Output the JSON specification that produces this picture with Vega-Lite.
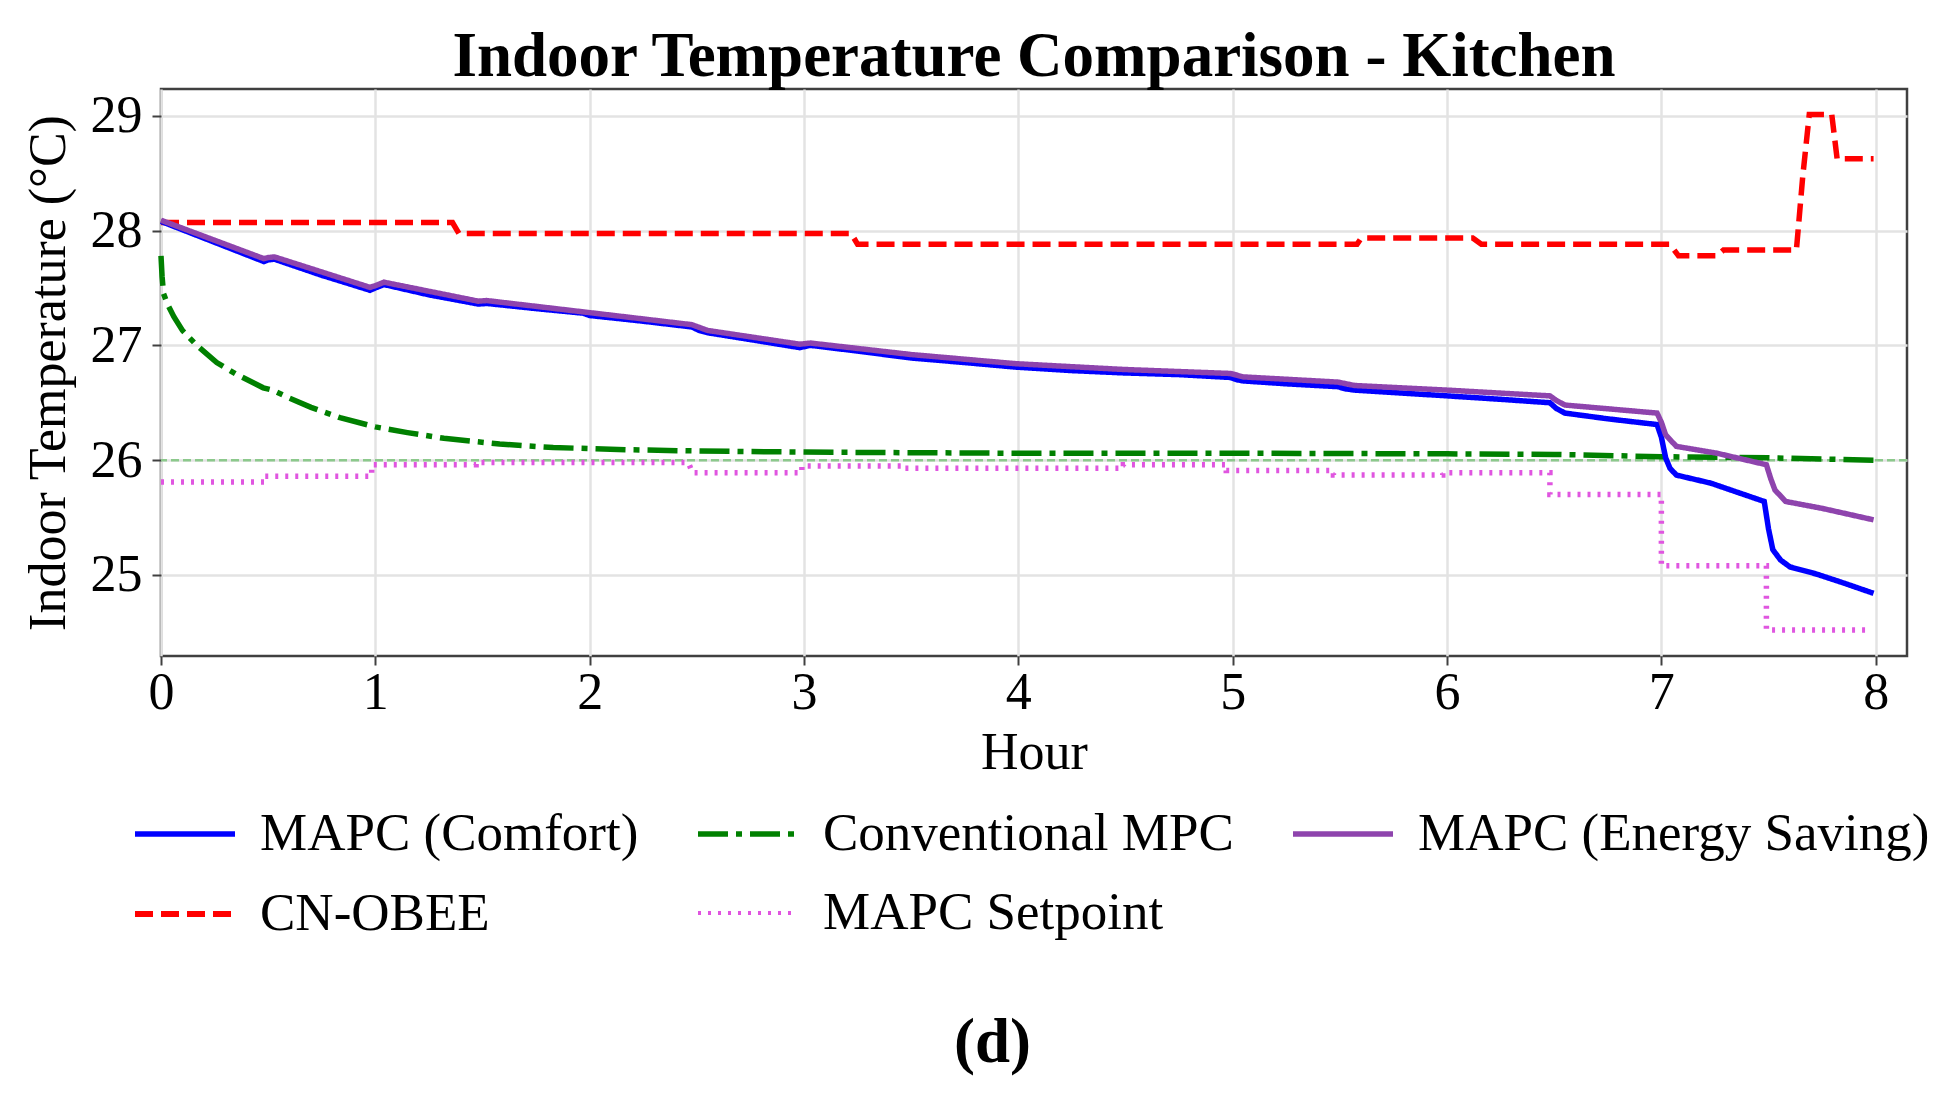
{
"$schema":"https://vega.github.io/schema/vega-lite/v6.json",
"width":1746,"height":567,
"autosize":{"type":"none"},
"padding":{"left":161,"top":89,"right":42,"bottom":438},
"background":"white",
"title":{"text":"Indoor Temperature Comparison - Kitchen","font":"Liberation Serif","fontSize":63,"fontWeight":"bold","color":"black","anchor":"middle","offset":-63,"baseline":"bottom"},
"config":{
"view":{"stroke":"#404040","strokeWidth":2.5},
"axis":{"labelFont":"Liberation Serif","titleFont":"Liberation Serif","labelFontSize":52,"titleFontSize":52,"titleFontWeight":"normal","labelColor":"black","titleColor":"black","tickColor":"#404040","tickWidth":2,"tickSize":9,"domain":false,"gridColor":"#e3e3e3","gridWidth":2.5,"labelFlush":false,"labelOverlap":false},
"axisX":{"labelPadding":2,"titlePadding":9},
"axisY":{"labelPadding":10,"titlePadding":15},
"legend":{"orient":"none","legendX":-29,"legendY":692,"columns":3,"columnPadding":48,"rowPadding":-4,"symbolType":"stroke","symbolSize":10000,"labelFont":"Liberation Serif","labelFontSize":53,"labelColor":"black","labelOffset":22,"labelLimit":0,"titleOrient":"bottom","titleAnchor":"middle","titleAlign":"right","titleFont":"Liberation Serif","titleFontSize":63,"titleFontWeight":"bold","titleColor":"black","titlePadding":71,"titleLimit":0}
},
"data":{"values":[
{"s":"MAPC Setpoint","k":0,"x":0,"y":25.81},
{"s":"MAPC Setpoint","k":1,"x":0.485,"y":25.81},
{"s":"MAPC Setpoint","k":2,"x":0.485,"y":25.86},
{"s":"MAPC Setpoint","k":3,"x":0.983,"y":25.86},
{"s":"MAPC Setpoint","k":4,"x":0.983,"y":25.96},
{"s":"MAPC Setpoint","k":5,"x":1.47,"y":25.96},
{"s":"MAPC Setpoint","k":6,"x":1.47,"y":25.98},
{"s":"MAPC Setpoint","k":7,"x":2.46,"y":25.98},
{"s":"MAPC Setpoint","k":8,"x":2.48,"y":25.89},
{"s":"MAPC Setpoint","k":9,"x":2.99,"y":25.89},
{"s":"MAPC Setpoint","k":10,"x":2.99,"y":25.95},
{"s":"MAPC Setpoint","k":11,"x":3.457,"y":25.95},
{"s":"MAPC Setpoint","k":12,"x":3.457,"y":25.93},
{"s":"MAPC Setpoint","k":13,"x":4.49,"y":25.93},
{"s":"MAPC Setpoint","k":14,"x":4.49,"y":25.96},
{"s":"MAPC Setpoint","k":15,"x":4.97,"y":25.96},
{"s":"MAPC Setpoint","k":16,"x":4.97,"y":25.91},
{"s":"MAPC Setpoint","k":17,"x":5.47,"y":25.91},
{"s":"MAPC Setpoint","k":18,"x":5.47,"y":25.87},
{"s":"MAPC Setpoint","k":19,"x":5.98,"y":25.87},
{"s":"MAPC Setpoint","k":20,"x":5.98,"y":25.89},
{"s":"MAPC Setpoint","k":21,"x":6.48,"y":25.89},
{"s":"MAPC Setpoint","k":22,"x":6.48,"y":25.7},
{"s":"MAPC Setpoint","k":23,"x":7.0,"y":25.7},
{"s":"MAPC Setpoint","k":24,"x":7.0,"y":25.08},
{"s":"MAPC Setpoint","k":25,"x":7.49,"y":25.08},
{"s":"MAPC Setpoint","k":26,"x":7.49,"y":24.52},
{"s":"MAPC Setpoint","k":27,"x":7.96,"y":24.52},
{"s":"CN-OBEE","k":0,"x":0,"y":28.07},
{"s":"CN-OBEE","k":1,"x":1.36,"y":28.07},
{"s":"CN-OBEE","k":2,"x":1.39,"y":27.975},
{"s":"CN-OBEE","k":3,"x":3.22,"y":27.975},
{"s":"CN-OBEE","k":4,"x":3.25,"y":27.88},
{"s":"CN-OBEE","k":5,"x":5.58,"y":27.88},
{"s":"CN-OBEE","k":6,"x":5.6,"y":27.935},
{"s":"CN-OBEE","k":7,"x":6.12,"y":27.935},
{"s":"CN-OBEE","k":8,"x":6.16,"y":27.88},
{"s":"CN-OBEE","k":9,"x":7.04,"y":27.88},
{"s":"CN-OBEE","k":10,"x":7.08,"y":27.78},
{"s":"CN-OBEE","k":11,"x":7.26,"y":27.78},
{"s":"CN-OBEE","k":12,"x":7.29,"y":27.83},
{"s":"CN-OBEE","k":13,"x":7.63,"y":27.83},
{"s":"CN-OBEE","k":14,"x":7.66,"y":28.48},
{"s":"CN-OBEE","k":15,"x":7.69,"y":29.01},
{"s":"CN-OBEE","k":16,"x":7.795,"y":29.01},
{"s":"CN-OBEE","k":17,"x":7.82,"y":28.625},
{"s":"CN-OBEE","k":18,"x":7.99,"y":28.625},
{"s":"Conventional MPC","k":0,"x":0,"y":27.78},
{"s":"Conventional MPC","k":1,"x":0.005,"y":27.6},
{"s":"Conventional MPC","k":2,"x":0.012,"y":27.45},
{"s":"Conventional MPC","k":3,"x":0.03,"y":27.36},
{"s":"Conventional MPC","k":4,"x":0.06,"y":27.25},
{"s":"Conventional MPC","k":5,"x":0.1,"y":27.13},
{"s":"Conventional MPC","k":6,"x":0.167,"y":27.0},
{"s":"Conventional MPC","k":7,"x":0.26,"y":26.85},
{"s":"Conventional MPC","k":8,"x":0.35,"y":26.75},
{"s":"Conventional MPC","k":9,"x":0.477,"y":26.63},
{"s":"Conventional MPC","k":10,"x":0.52,"y":26.61},
{"s":"Conventional MPC","k":11,"x":0.6,"y":26.54},
{"s":"Conventional MPC","k":12,"x":0.7,"y":26.46},
{"s":"Conventional MPC","k":13,"x":0.835,"y":26.37},
{"s":"Conventional MPC","k":14,"x":1.0,"y":26.29},
{"s":"Conventional MPC","k":15,"x":1.15,"y":26.24},
{"s":"Conventional MPC","k":16,"x":1.32,"y":26.19},
{"s":"Conventional MPC","k":17,"x":1.58,"y":26.14},
{"s":"Conventional MPC","k":18,"x":1.83,"y":26.11},
{"s":"Conventional MPC","k":19,"x":2.19,"y":26.09},
{"s":"Conventional MPC","k":20,"x":2.5,"y":26.08},
{"s":"Conventional MPC","k":21,"x":3.0,"y":26.07},
{"s":"Conventional MPC","k":22,"x":4.0,"y":26.06},
{"s":"Conventional MPC","k":23,"x":5.0,"y":26.06},
{"s":"Conventional MPC","k":24,"x":6.0,"y":26.055},
{"s":"Conventional MPC","k":25,"x":6.5,"y":26.05},
{"s":"Conventional MPC","k":26,"x":7.0,"y":26.03},
{"s":"Conventional MPC","k":27,"x":7.5,"y":26.02},
{"s":"Conventional MPC","k":28,"x":7.99,"y":26.0},
{"s":"MAPC (Comfort)","k":0,"x":0,"y":28.08},
{"s":"MAPC (Comfort)","k":1,"x":0.48,"y":27.73},
{"s":"MAPC (Comfort)","k":2,"x":0.5,"y":27.745},
{"s":"MAPC (Comfort)","k":3,"x":0.53,"y":27.75},
{"s":"MAPC (Comfort)","k":4,"x":0.75,"y":27.61},
{"s":"MAPC (Comfort)","k":5,"x":0.975,"y":27.48},
{"s":"MAPC (Comfort)","k":6,"x":1.0,"y":27.5},
{"s":"MAPC (Comfort)","k":7,"x":1.04,"y":27.53},
{"s":"MAPC (Comfort)","k":8,"x":1.25,"y":27.44},
{"s":"MAPC (Comfort)","k":9,"x":1.48,"y":27.36},
{"s":"MAPC (Comfort)","k":10,"x":1.52,"y":27.365},
{"s":"MAPC (Comfort)","k":11,"x":1.75,"y":27.32},
{"s":"MAPC (Comfort)","k":12,"x":1.97,"y":27.28},
{"s":"MAPC (Comfort)","k":13,"x":2.0,"y":27.26},
{"s":"MAPC (Comfort)","k":14,"x":2.25,"y":27.21},
{"s":"MAPC (Comfort)","k":15,"x":2.477,"y":27.16},
{"s":"MAPC (Comfort)","k":16,"x":2.51,"y":27.13},
{"s":"MAPC (Comfort)","k":17,"x":2.55,"y":27.11},
{"s":"MAPC (Comfort)","k":18,"x":2.75,"y":27.05},
{"s":"MAPC (Comfort)","k":19,"x":2.98,"y":26.98},
{"s":"MAPC (Comfort)","k":20,"x":3.03,"y":27.0},
{"s":"MAPC (Comfort)","k":21,"x":3.25,"y":26.95},
{"s":"MAPC (Comfort)","k":22,"x":3.5,"y":26.89},
{"s":"MAPC (Comfort)","k":23,"x":3.75,"y":26.85},
{"s":"MAPC (Comfort)","k":24,"x":3.99,"y":26.81},
{"s":"MAPC (Comfort)","k":25,"x":4.25,"y":26.78},
{"s":"MAPC (Comfort)","k":26,"x":4.49,"y":26.76},
{"s":"MAPC (Comfort)","k":27,"x":4.75,"y":26.745},
{"s":"MAPC (Comfort)","k":28,"x":4.99,"y":26.72},
{"s":"MAPC (Comfort)","k":29,"x":5.02,"y":26.7},
{"s":"MAPC (Comfort)","k":30,"x":5.05,"y":26.69},
{"s":"MAPC (Comfort)","k":31,"x":5.25,"y":26.665},
{"s":"MAPC (Comfort)","k":32,"x":5.49,"y":26.64},
{"s":"MAPC (Comfort)","k":33,"x":5.53,"y":26.62},
{"s":"MAPC (Comfort)","k":34,"x":5.57,"y":26.61},
{"s":"MAPC (Comfort)","k":35,"x":6.0,"y":26.56},
{"s":"MAPC (Comfort)","k":36,"x":6.25,"y":26.53},
{"s":"MAPC (Comfort)","k":37,"x":6.48,"y":26.5},
{"s":"MAPC (Comfort)","k":38,"x":6.51,"y":26.45},
{"s":"MAPC (Comfort)","k":39,"x":6.55,"y":26.41},
{"s":"MAPC (Comfort)","k":40,"x":6.75,"y":26.36},
{"s":"MAPC (Comfort)","k":41,"x":6.98,"y":26.31},
{"s":"MAPC (Comfort)","k":42,"x":7.0,"y":26.2},
{"s":"MAPC (Comfort)","k":43,"x":7.02,"y":26.02},
{"s":"MAPC (Comfort)","k":44,"x":7.04,"y":25.93},
{"s":"MAPC (Comfort)","k":45,"x":7.07,"y":25.87},
{"s":"MAPC (Comfort)","k":46,"x":7.23,"y":25.8},
{"s":"MAPC (Comfort)","k":47,"x":7.48,"y":25.64},
{"s":"MAPC (Comfort)","k":48,"x":7.5,"y":25.4},
{"s":"MAPC (Comfort)","k":49,"x":7.52,"y":25.22},
{"s":"MAPC (Comfort)","k":50,"x":7.556,"y":25.13},
{"s":"MAPC (Comfort)","k":51,"x":7.6,"y":25.07},
{"s":"MAPC (Comfort)","k":52,"x":7.72,"y":25.01},
{"s":"MAPC (Comfort)","k":53,"x":7.85,"y":24.93},
{"s":"MAPC (Comfort)","k":54,"x":7.99,"y":24.84},
{"s":"MAPC (Energy Saving)","k":0,"x":0,"y":28.09},
{"s":"MAPC (Energy Saving)","k":1,"x":0.48,"y":27.755},
{"s":"MAPC (Energy Saving)","k":2,"x":0.5,"y":27.765},
{"s":"MAPC (Energy Saving)","k":3,"x":0.53,"y":27.77},
{"s":"MAPC (Energy Saving)","k":4,"x":0.975,"y":27.505},
{"s":"MAPC (Energy Saving)","k":5,"x":1.0,"y":27.52},
{"s":"MAPC (Energy Saving)","k":6,"x":1.04,"y":27.55},
{"s":"MAPC (Energy Saving)","k":7,"x":1.48,"y":27.385},
{"s":"MAPC (Energy Saving)","k":8,"x":1.52,"y":27.39},
{"s":"MAPC (Energy Saving)","k":9,"x":2.0,"y":27.285},
{"s":"MAPC (Energy Saving)","k":10,"x":2.477,"y":27.18},
{"s":"MAPC (Energy Saving)","k":11,"x":2.55,"y":27.13},
{"s":"MAPC (Energy Saving)","k":12,"x":2.98,"y":27.01},
{"s":"MAPC (Energy Saving)","k":13,"x":3.03,"y":27.02},
{"s":"MAPC (Energy Saving)","k":14,"x":3.5,"y":26.92},
{"s":"MAPC (Energy Saving)","k":15,"x":3.99,"y":26.84},
{"s":"MAPC (Energy Saving)","k":16,"x":4.49,"y":26.79},
{"s":"MAPC (Energy Saving)","k":17,"x":4.99,"y":26.755},
{"s":"MAPC (Energy Saving)","k":18,"x":5.05,"y":26.725},
{"s":"MAPC (Energy Saving)","k":19,"x":5.49,"y":26.68},
{"s":"MAPC (Energy Saving)","k":20,"x":5.57,"y":26.65},
{"s":"MAPC (Energy Saving)","k":21,"x":6.0,"y":26.61},
{"s":"MAPC (Energy Saving)","k":22,"x":6.48,"y":26.56},
{"s":"MAPC (Energy Saving)","k":23,"x":6.51,"y":26.52},
{"s":"MAPC (Energy Saving)","k":24,"x":6.55,"y":26.48},
{"s":"MAPC (Energy Saving)","k":25,"x":6.98,"y":26.41},
{"s":"MAPC (Energy Saving)","k":26,"x":7.0,"y":26.33},
{"s":"MAPC (Energy Saving)","k":27,"x":7.02,"y":26.22},
{"s":"MAPC (Energy Saving)","k":28,"x":7.07,"y":26.12},
{"s":"MAPC (Energy Saving)","k":29,"x":7.26,"y":26.06},
{"s":"MAPC (Energy Saving)","k":30,"x":7.49,"y":25.96},
{"s":"MAPC (Energy Saving)","k":31,"x":7.51,"y":25.84},
{"s":"MAPC (Energy Saving)","k":32,"x":7.53,"y":25.74},
{"s":"MAPC (Energy Saving)","k":33,"x":7.58,"y":25.64},
{"s":"MAPC (Energy Saving)","k":34,"x":7.75,"y":25.58},
{"s":"MAPC (Energy Saving)","k":35,"x":7.99,"y":25.48}
]},
"layer":[
{"data":{"values":[{"ref":26}]},"mark":{"type":"rule","color":"#8cc98c","strokeWidth":2.5,"strokeDash":[8,4]},"encoding":{"y":{"field":"ref","type":"quantitative"}}},
{"mark":{"type":"line","strokeWidth":5.5},
"encoding":{
"x":{"field":"x","type":"quantitative","scale":{"domain":[0,8.146],"nice":false,"zero":false},"axis":{"values":[0,1,2,3,4,5,6,7,8],"format":"d","title":"Hour"}},
"y":{"field":"y","type":"quantitative","scale":{"domain":[24.294,29.233],"nice":false,"zero":false},"axis":{"values":[25,26,27,28,29],"format":"d","title":"Indoor Temperature (°C)"}},
"order":{"field":"k","type":"quantitative"},
"color":{"field":"s","type":"nominal","title":"(d)","scale":{"domain":["MAPC (Comfort)","CN-OBEE","Conventional MPC","MAPC Setpoint","MAPC (Energy Saving)"],"range":["#0000ff","#ff0000","#008000","#e055e0","#8e44ad"]}},
"strokeDash":{"field":"s","type":"nominal","title":"(d)","scale":{"domain":["MAPC (Comfort)","CN-OBEE","Conventional MPC","MAPC Setpoint","MAPC (Energy Saving)"],"range":[[1,0],[18,8],[30,8,6,8],[3,7],[1,0]]}},
"strokeWidth":{"field":"s","type":"ordinal","title":"(d)","scale":{"type":"ordinal","domain":["MAPC (Comfort)","CN-OBEE","Conventional MPC","MAPC Setpoint","MAPC (Energy Saving)"],"range":[5.5,6,5.5,4,5.5]}}
}}
]
}
